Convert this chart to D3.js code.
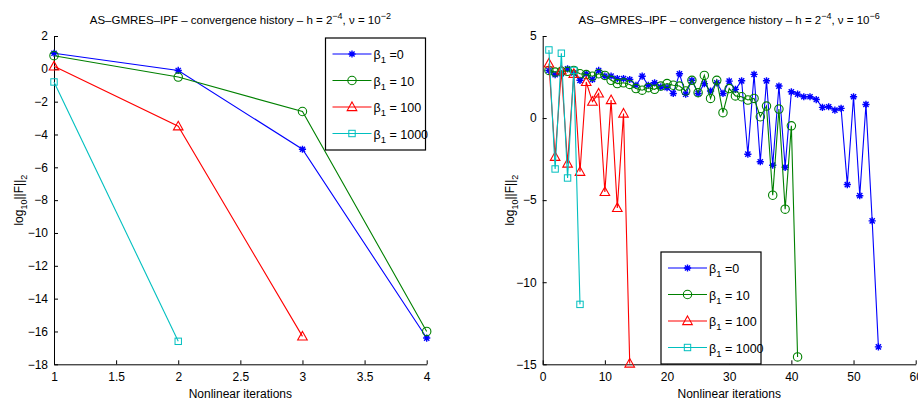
<!DOCTYPE html>
<html>
<head>
<meta charset="utf-8">
<script src="https://cdn.jsdelivr.net/npm/d3@7"></script>
<style>
  body { margin: 0; background: #fff; }
  svg { font-family: "Liberation Sans", Arial, sans-serif; }
</style>
</head>
<body>
<div id="chart"></div>
<script>
var width = 918;
var height = 402;

// ---- data, left panel (nu = 1e-2) ----
var leftIters = [1, 2, 3, 4];
var leftB0    = [0.95, -0.1, -4.9, -16.4];
var leftB10   = [0.8, -0.5, -2.6, -16.0];
var leftB100  = [0.15, -3.5, -16.3];
var leftB1000 = [-0.8, -16.6];

// ---- data, right panel (nu = 1e-6) ----
var rightB0 = [2.9, 2.65, 2.7, 3.0, 2.75, 2.3, 2.7, 2.35, 2.9, 2.55,
  2.55, 2.4, 2.4, 2.35, 2.0, 2.55, 2.0, 2.15, 1.9, 1.85,
  1.5, 2.7, 1.45, 2.3, 1.5, 2.1, 1.65, 2.15, 1.5, 2.25,
  1.75, 2.27, -2.2, 2.66, -2.66, 2.27, -2.87, 1.95, -3.0, 1.6,
  1.46, 1.3, 1.3, 1.13, 0.65, 0.69, 0.49, 0.59, -4.05, 1.3,
  -4.73, 0.83, -6.26, -13.94];
var rightB10 = [2.9, 2.8, 2.85, 2.85, 2.9, 2.7, 2.65, 2.55, 2.7, 2.6,
  2.3, 2.1, 2.15, 2.05, 1.8, 1.7, 1.85, 1.75, 1.95, 2.1,
  2.0, 1.95, 1.65, 2.3, 1.55, 2.6, 1.2, 2.3, 0.33, 1.8,
  1.35, 1.3, 1.1, 1.2, 0.08, 0.73, -4.7, 0.55, -5.55, -0.47,
  -14.55];
var rightB100 = [3.33, -2.36, 2.9, -2.77, 2.7, -3.27, 2.2, 1.0, 1.5, -4.5,
  1.1, -5.47, 0.28, -14.95];
var rightB1000 = [4.15, -3.1, 3.95, -3.65, 2.9, -11.35];

var leftXTicks = [1, 1.5, 2, 2.5, 3, 3.5, 4];
var leftYTicks = [2, 0, -2, -4, -6, -8, -10, -12, -14, -16, -18];
var rightXTicks = [0, 10, 20, 30, 40, 50, 60];
var rightYTicks = [5, 0, -5, -10, -15];

var seriesNames = ["=0", "= 10", "= 100", "= 1000"];
var seriesColors = ["#0000ff", "#008000", "#ff0000", "#00bfbf"];
var seriesMarkers = ["star", "circle", "triangle", "square"];

function toPoints(xs, ys) {
  return ys.map(function(v, i){ return {x: xs[i], y: v}; });
}
function countFrom1(ys) {
  return ys.map(function(v, i){ return {x: i + 1, y: v}; });
}

var svg = d3.select("#chart")
  .append("svg")
    .attr("width", width)
    .attr("height", height);

function drawMarker(g, type, color) {
  if (type == "star") {
    var s = 3.6, d = 2.6;
    g.append("path")
      .attr("d", "M" + (-s) + ",0L" + s + ",0M0," + (-s) + "L0," + s +
        "M" + (-d) + "," + (-d) + "L" + d + "," + d + "M" + (-d) + "," + d + "L" + d + "," + (-d))
      .attr("stroke", color).attr("stroke-width", 1.4).attr("fill", "none");
  } else if (type == "circle") {
    g.append("circle").attr("r", 4.2)
      .attr("stroke", color).attr("stroke-width", 1.1).attr("fill", "none");
  } else if (type == "triangle") {
    g.append("path").attr("d", "M0,-5L4.8,3.6L-4.8,3.6Z")
      .attr("stroke", color).attr("stroke-width", 1.1).attr("fill", "none");
  } else {
    g.append("rect").attr("x", -3.2).attr("y", -3.2).attr("width", 6.4).attr("height", 6.4)
      .attr("stroke", color).attr("stroke-width", 1).attr("fill", "none");
  }
}

function drawPanel(cfg) {
  var x = d3.scaleLinear().domain(cfg.xDomain).range([cfg.left, cfg.right]);
  var y = d3.scaleLinear().domain(cfg.yDomain).range([cfg.bottom, cfg.top]);
  var fmt = d3.format("~g");
  var g = svg.append("g");

  // axes (matlab style, ticks inward)
  g.append("g")
    .attr("transform", "translate(0," + cfg.bottom + ")")
    .call(d3.axisBottom(x).tickValues(cfg.xTicks).tickFormat(fmt)
      .tickSizeInner(-4).tickSizeOuter(0).tickPadding(8))
    .call(function(a){
      a.select(".domain").attr("stroke", "#000");
      a.selectAll("line").attr("stroke", "#000");
      a.selectAll("text").attr("font-size", 12).attr("fill", "#000");
    });
  g.append("g")
    .attr("transform", "translate(" + cfg.left + ",0)")
    .call(d3.axisLeft(y).tickValues(cfg.yTicks).tickFormat(fmt)
      .tickSizeInner(-4).tickSizeOuter(0).tickPadding(6))
    .call(function(a){
      a.select(".domain").attr("stroke", "#000");
      a.selectAll("line").attr("stroke", "#000");
      a.selectAll("text").attr("font-size", 12).attr("fill", "#000");
    });

  var line = d3.line().x(d => x(d.x)).y(d => y(d.y));
  cfg.series.forEach(function(pts, i){
    g.append("path")
      .datum(pts)
      .attr("d", line)
      .attr("fill", "none")
      .attr("stroke", seriesColors[i])
      .attr("stroke-width", 1.1);
    pts.forEach(function(p){
      var m = g.append("g").attr("transform", "translate(" + x(p.x) + "," + y(p.y) + ")");
      drawMarker(m, seriesMarkers[i], seriesColors[i]);
    });
  });

  // title
  var t = g.append("text")
    .attr("x", (cfg.left + cfg.right) / 2)
    .attr("y", 24)
    .attr("text-anchor", "middle")
    .attr("font-size", 11.5);
  t.append("tspan").text("AS\u2013GMRES\u2013IPF \u2013 convergence history \u2013 h = 2");
  t.append("tspan").attr("dy", -5).attr("font-size", 9).text("\u22124");
  t.append("tspan").attr("dy", 5).text(", \u03bd = 10");
  t.append("tspan").attr("dy", -5).attr("font-size", 9).text(cfg.nuExp);

  // axis labels
  g.append("text")
    .attr("x", (cfg.left + cfg.right) / 2)
    .attr("y", 398)
    .attr("text-anchor", "middle")
    .attr("font-size", 12)
    .text("Nonlinear iterations");
  var yl = g.append("text")
    .attr("transform", "translate(" + cfg.yLabelX + "," + ((cfg.top + cfg.bottom) / 2) + ") rotate(-90)")
    .attr("text-anchor", "middle")
    .attr("font-size", 12);
  yl.append("tspan").text("log");
  yl.append("tspan").attr("dy", 4).attr("font-size", 9).text("10");
  yl.append("tspan").attr("dy", -4).text("||F||");
  yl.append("tspan").attr("dy", 4).attr("font-size", 9).text("2");

  // legend
  var lg = g.append("g").attr("transform", "translate(" + cfg.legX + "," + cfg.legY + ")");
  lg.append("rect")
    .attr("width", 100).attr("height", 112)
    .attr("fill", "#fff").attr("stroke", "#000").attr("stroke-width", 1.2);
  seriesNames.forEach(function(name, i){
    var row = lg.append("g").attr("transform", "translate(0," + (16 + i * 26.5) + ")");
    row.append("line").attr("x1", 7).attr("x2", 46).attr("y1", 0).attr("y2", 0)
      .attr("stroke", seriesColors[i]).attr("stroke-width", 1.1);
    var m = row.append("g").attr("transform", "translate(26.5,0)");
    drawMarker(m, seriesMarkers[i], seriesColors[i]);
    var tx = row.append("text").attr("x", 48).attr("y", 5).attr("font-size", 12.5);
    tx.append("tspan").text("\u03b2");
    tx.append("tspan").attr("dy", 4).attr("font-size", 9.5).text("1");
    tx.append("tspan").attr("dy", -4).text(" " + name);
  });
}

drawPanel({
  left: 54, right: 426.7, top: 36, bottom: 364.3,
  xDomain: [1, 4], yDomain: [-18, 2],
  xTicks: leftXTicks, yTicks: leftYTicks,
  series: [toPoints(leftIters, leftB0), toPoints(leftIters, leftB10),
           toPoints(leftIters, leftB100), toPoints(leftIters, leftB1000)],
  nuExp: "\u22122", yLabelX: 23,
  legX: 325.5, legY: 38
});

drawPanel({
  left: 542.7, right: 915.7, top: 36, bottom: 364.3,
  xDomain: [0, 60], yDomain: [-15, 5],
  xTicks: rightXTicks, yTicks: rightYTicks,
  series: [countFrom1(rightB0), countFrom1(rightB10),
           countFrom1(rightB100), countFrom1(rightB1000)],
  nuExp: "\u22126", yLabelX: 514,
  legX: 661, legY: 252
});
</script>
</body>
</html>
